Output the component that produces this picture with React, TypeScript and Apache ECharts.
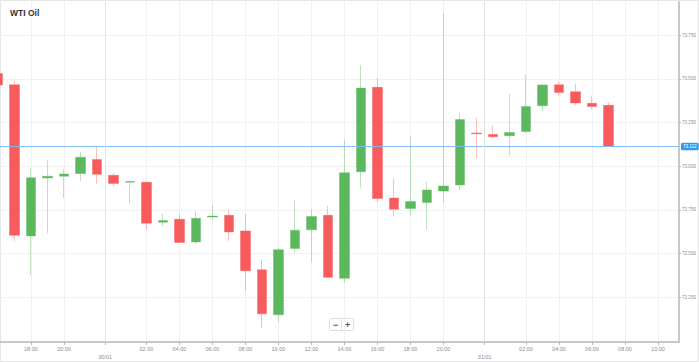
import React, { useEffect, useRef } from 'react';
import * as echarts from 'echarts';

// Hourly candles (index 0 = 16:00 on 29/01)
const hours = [
  '16:00', '17:00', '18:00', '19:00', '20:00', '21:00', '22:00', '00:00', '01:00', '02:00',
  '03:00', '04:00', '05:00', '06:00', '07:00', '08:00', '09:00', '10:00', '11:00', '12:00',
  '13:00', '14:00', '15:00', '16:00', '17:00', '18:00', '19:00', '20:00', '21:00', '22:00',
  '00:00', '01:00', '02:00', '03:00', '04:00', '05:00', '06:00', '07:00',
];
const opens = [73.53, 73.466, 72.6, 72.932, 72.942, 72.958, 73.038, 72.947, 72.908, 72.907, 72.679, 72.696, 72.566, 72.708, 72.718, 72.629, 72.406, 72.148, 72.528, 72.635, 72.718, 72.357, 72.968, 73.451, 72.817, 72.757, 72.791, 72.857, 72.892, 73.19, 73.181, 73.174, 73.198, 73.346, 73.466, 73.426, 73.36, 73.348];
const closes = [73.465, 72.604, 72.934, 72.942, 72.955, 73.051, 72.953, 72.901, 72.912, 72.673, 72.688, 72.563, 72.701, 72.714, 72.623, 72.401, 72.154, 72.521, 72.633, 72.711, 72.363, 72.962, 73.447, 72.814, 72.753, 72.797, 72.863, 72.886, 73.267, 73.185, 73.168, 73.192, 73.342, 73.465, 73.422, 73.362, 73.342, 73.112];
const lows = [73.44, 72.572, 72.372, 72.614, 72.816, 72.914, 72.9, 72.882, 72.787, 72.635, 72.654, 72.56, 72.553, 72.692, 72.572, 72.287, 72.072, 72.106, 72.502, 72.449, 72.36, 72.334, 72.877, 72.795, 72.715, 72.715, 72.635, 72.791, 72.863, 73.044, 73.156, 73.057, 73.187, 73.314, 73.408, 73.348, 73.324, 73.112];
const highs = [73.55, 73.49, 72.987, 73.034, 72.985, 73.08, 73.111, 72.962, 72.918, 72.91, 72.73, 72.724, 72.743, 72.776, 72.753, 72.724, 72.463, 72.534, 72.804, 72.753, 72.772, 73.152, 73.58, 73.505, 72.93, 73.171, 72.911, 73.876, 73.305, 73.276, 73.232, 73.415, 73.523, 73.468, 73.483, 73.472, 73.403, 73.365];

// x tick positions (slot index) and their labels
const tickSlots = [2, 4, 9, 11, 13, 15, 17, 19, 21, 23, 25, 27, 32, 34, 36, 38, 40];
const tickLabels = ['18:00', '20:00', '02:00', '04:00', '06:00', '08:00', '10:00', '12:00', '14:00', '16:00', '18:00', '20:00', '02:00', '04:00', '06:00', '08:00', '10:00'];
const dateSlots = [6.5, 29.5];
const dateLabels = ['30/01', '31/01'];

const yTicks = [72.25, 72.5, 72.75, 73.0, 73.25, 73.5, 73.75];
const lastPrice = 73.112;
const xRange = [0.13, 41.27];

const UP = '#5cb85c';
const DOWN = '#f75b5b';
const PRICE = '#7dbbee';

export default function App() {
  const ref = useRef<HTMLDivElement>(null);
  useEffect(() => {
    if (!ref.current) return;
    const chart = echarts.init(ref.current, null, { renderer: 'svg' });
    const data = opens.map((o, i) => [i, o, closes[i], lows[i], highs[i]]);
    const allX = [...tickSlots, ...dateSlots].sort((a, b) => a - b);
    const labelFor = (v: number) => {
      const ti = tickSlots.findIndex((t) => Math.abs(t - v) < 1e-6);
      if (ti >= 0) return tickLabels[ti];
      const di = dateSlots.findIndex((t) => Math.abs(t - v) < 1e-6);
      if (di >= 0) return '\n' + dateLabels[di];
      return '';
    };
    chart.setOption({
      animation: false,
      textStyle: { fontFamily: 'Liberation Sans, Arial, sans-serif' },
      grid: { left: 0, right: 18, top: 2, bottom: 20, containLabel: false },
      graphic: [
        {
          type: 'rect',
          shape: { x: 0.5, y: 0.5, width: 698, height: 361 },
          style: { fill: 'none', stroke: '#e6e6e6', lineWidth: 1 },
          silent: true,
          z: -10,
        },
        {
          type: 'text',
          left: 10,
          top: 8,
          style: { text: 'WTI Oil', fontSize: 8.5, fontWeight: 'bold', fill: '#333', fontFamily: 'Liberation Sans, Arial, sans-serif' },
          z: 100,
        },
        {
          type: 'group',
          left: 329,
          top: 316,
          z: 100,
          children: [
            { type: 'rect', shape: { x: 0, y: 0, width: 24, height: 12, r: 2 }, style: { fill: '#fff', stroke: '#dcdcdc', lineWidth: 1 } },
            { type: 'line', shape: { x1: 12, y1: 0, x2: 12, y2: 12 }, style: { stroke: '#e4e4e4', lineWidth: 1 } },
            { type: 'text', x: 6, y: 6, style: { text: '−', fontSize: 9, fontWeight: 'bold', fill: '#555', align: 'center', verticalAlign: 'middle' } },
            { type: 'text', x: 18, y: 6, style: { text: '+', fontSize: 9, fontWeight: 'bold', fill: '#555', align: 'center', verticalAlign: 'middle' } },
          ],
        },
      ],
      xAxis: {
        type: 'value',
        min: xRange[0],
        max: xRange[1],
        position: 'bottom',
        axisLine: { show: true, lineStyle: { color: '#c8c8c8', width: 2 } },
        axisTick: { show: true, customValues: allX, length: 3, lineStyle: { color: '#bbb' } },
        axisLabel: {
          show: true,
          customValues: allX,
          formatter: (v: number) => labelFor(v),
          fontSize: 5.5,
          lineHeight: 8,
          color: '#8c8c8c',
          margin: 3,
        },
        splitLine: { show: true, lineStyle: { color: '#f1f1f1', width: 1 } },
      },
      yAxis: {
        type: 'value',
        position: 'right',
        min: 71.9925,
        max: 73.94,
        scale: true,
        axisLine: { show: true, lineStyle: { color: '#c8c8c8', width: 2 } },
        axisTick: { show: true, customValues: yTicks, length: 2, lineStyle: { color: '#bbb' } },
        axisLabel: {
          show: true,
          customValues: yTicks,
          formatter: (v: number) => v.toFixed(3),
          fontSize: 4.6,
          color: '#8c8c8c',
          margin: 3,
        },
        splitLine: { show: true, lineStyle: { color: '#f1f1f1', width: 1 } },
      },
      series: [
        {
          type: 'candlestick',
          dimensions: ['slot', 'open', 'close', 'lowest', 'highest'],
          encode: { x: 0, y: [1, 2, 3, 4] },
          data,
          barWidth: 10,
          clip: true,
          z: 3,
          itemStyle: {
            color: UP,
            color0: DOWN,
            borderColor: 'rgba(92,184,92,0.4)',
            borderColor0: 'rgba(247,91,91,0.4)',
            borderWidth: 1,
          },
          markLine: {
            silent: true,
            symbol: 'none',
            animation: false,
            lineStyle: { color: '#e2e2e2', width: 1, type: 'solid' },
            label: { show: false },
            data: [{ xAxis: dateSlots[0] }, { xAxis: dateSlots[1] }],
          },
        },
        {
          type: 'line',
          name: 'last',
          data: [[xRange[0], lastPrice], [xRange[1], lastPrice]],
          showSymbol: false,
          symbol: 'none',
          silent: true,
          z: 4,
          clip: false,
          lineStyle: { color: PRICE, width: 1, type: 'solid' },
          itemStyle: { color: PRICE },
          endLabel: {
            show: true,
            formatter: lastPrice.toFixed(3),
            backgroundColor: '#2f9bf0',
            color: '#fff',
            fontSize: 4.6,
            padding: [1.5, 2, 1, 2],
            borderRadius: 1.5,
            distance: 2,
          },
        },
      ],
    });
    return () => chart.dispose();
  }, []);
  return <div ref={ref} style={{ position: 'fixed', left: 0, top: 0, width: 699, height: 362, background: '#fff' }} />;
}
